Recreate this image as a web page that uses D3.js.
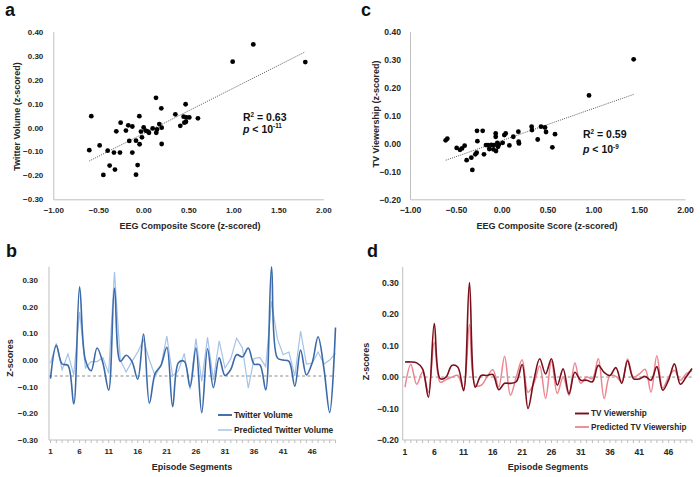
<!DOCTYPE html>
<html><head><meta charset="utf-8">
<script src="https://cdn.jsdelivr.net/npm/d3@7/dist/d3.min.js"></script>
<style>
body{margin:0;background:#fff;}
svg{display:block;font-family:"Liberation Sans",Arial,sans-serif;}
</style></head>
<body><svg id="chart" width="700" height="477"></svg>
<script>
// ---------- DATA ----------
const eegA = [-0.60,-0.578,-0.485,-0.444,-0.396,-0.374,-0.326,-0.315,-0.30,-0.259,-0.252,-0.193,-0.167,-0.156,-0.122,-0.122,-0.081,-0.081,-0.063,-0.044,-0.041,-0.026,-0.015,0.004,0.026,0.048,0.063,0.104,0.141,0.144,0.152,0.178,0.20,0.204,0.204,0.356,0.411,0.448,0.456,0.470,0.474,0.478,0.511,0.607,0.993,1.222,1.80];
const twitterA = [-0.095,0.047,-0.075,-0.198,-0.097,-0.159,-0.105,-0.176,-0.016,-0.105,0.020,-0.013,0.009,-0.056,0.004,-0.105,-0.055,-0.197,-0.157,0.047,-0.070,-0.017,-0.041,0.0,-0.013,-0.016,-0.022,-0.004,0.124,-0.022,-0.008,0.014,0.080,-0.001,-0.069,0.055,0.007,0.045,0.020,0.097,0.024,0.042,0.042,0.038,0.275,0.347,0.273];
const trendA = {slope:0.19, intercept:-0.026, from:-0.60, to:1.80};

const eegC = [-0.611,-0.593,-0.491,-0.455,-0.433,-0.404,-0.382,-0.331,-0.32,-0.287,-0.273,-0.269,-0.265,-0.207,-0.193,-0.171,-0.149,-0.135,-0.113,-0.091,-0.084,-0.065,-0.065,-0.062,-0.047,-0.04,-0.029,0.011,0.029,0.044,0.084,0.127,0.182,0.185,0.189,0.327,0.331,0.393,0.429,0.473,0.484,0.553,0.582,0.953,1.44];
const tvC = [0.011,0.017,-0.016,-0.023,-0.018,-0.008,-0.060,-0.051,-0.095,-0.039,-0.033,0.045,0.008,0.045,-0.039,-0.006,-0.006,-0.020,-0.005,-0.021,-0.006,0.024,0.036,-0.027,0.002,-0.012,-0.004,0.002,0.030,0.036,-0.007,0.024,0.042,0.006,0.0,0.060,0.048,0.014,0.060,0.057,0.041,-0.014,0.033,0.172,0.301];
const trendC = {slope:0.115, intercept:0.010, from:-0.61, to:1.45};

const segments = d3.range(1, 51);
const twitterVolume = [-0.07,0.055,-0.015,-0.02,-0.165,0.275,0.0,-0.04,0.045,-0.01,-0.113,0.27,-0.005,0.018,-0.005,-0.072,0.097,-0.162,-0.05,-0.02,0.048,-0.175,-0.01,-0.005,-0.10,0.045,-0.198,0.042,-0.104,0.008,-0.058,-0.035,0.02,0.012,0.045,-0.015,-0.018,-0.112,0.35,0.008,0.0,-0.005,-0.098,0.037,-0.056,-0.01,0.087,-0.03,-0.197,0.122];
const predTwitter = [-0.012,0.062,-0.037,0.023,-0.056,0.18,-0.03,-0.006,-0.006,0.009,-0.05,0.33,0.0,-0.045,-0.005,0.03,0.075,0.0,-0.06,-0.02,0.09,-0.06,-0.04,0.025,-0.11,0.08,-0.08,0.085,-0.075,0.072,-0.03,0.005,0.082,0.045,-0.105,0.005,0.01,-0.025,0.22,0.08,0.02,0.03,-0.06,0.108,-0.015,-0.012,0.03,-0.015,0.0,0.025];
const refLineB = -0.06;

const tvViewership = [0.048,0.048,0.045,0.026,-0.064,0.17,-0.005,0.0,0.037,0.032,-0.043,0.30,-0.032,0.005,0.005,0.008,-0.04,-0.02,-0.02,-0.015,0.04,-0.10,-0.01,0.058,0.01,0.058,-0.026,0.026,-0.053,0.015,-0.01,-0.01,-0.015,0.037,0.015,0.005,0.03,-0.02,0.052,-0.005,-0.006,0.002,-0.01,0.033,-0.042,-0.01,0.042,-0.023,0.0,0.027];
const predTV = [-0.032,0.04,-0.023,0.016,-0.048,0.11,-0.016,-0.008,0.0,0.005,-0.037,0.167,-0.026,-0.026,0.0,0.023,-0.032,0.066,-0.058,0.0,0.055,-0.048,-0.02,0.035,-0.068,0.05,-0.052,0.0,-0.058,0.045,-0.02,0.0,-0.005,0.058,-0.068,0.005,0.002,-0.015,0.057,0.0,0.01,0.025,-0.048,0.068,-0.035,0.0,0.022,-0.01,0.01,0.02];
const refLineD = 0.0;

const scatterXTicks = [-1,-0.5,0,0.5,1,1.5,2];
const yTicksA = [-0.3,-0.2,-0.1,0,0.1,0.2,0.3,0.4];
const yTicksC = [-0.2,-0.1,0,0.1,0.2,0.3,0.4];
const yTicksB = [-0.3,-0.2,-0.1,0,0.1,0.2,0.3];
const yTicksD = [-0.2,-0.1,0,0.1,0.2,0.3];
const segTickLabels = [1,6,11,16,21,26,31,36,41,46];

// ---------- DRAW ----------
const svg = d3.select("#chart");
const fmt = d3.format(".2f");
const axisColor = "#bfbfbf", textColor = "#262626";

function styleAxis(g){
  g.select(".domain").attr("stroke", axisColor).attr("stroke-width", 1);
  g.selectAll(".tick line").attr("stroke", axisColor);
  g.selectAll("text").attr("fill", textColor).attr("font-weight","bold").attr("font-family",'"Liberation Sans",Arial,sans-serif');
}
function panelLetter(t,x,y){
  svg.append("text").attr("x",x).attr("y",y).text(t).attr("font-size",18).attr("font-weight","bold").attr("fill","#111");
}
function yTitle(t,x,y){
  svg.append("text").attr("transform",`translate(${x},${y}) rotate(-90)`).attr("text-anchor","middle").attr("dy","0.35em")
    .attr("font-size",9).attr("font-weight","bold").attr("fill",textColor).text(t);
}
function xTitle(t,x,y){
  svg.append("text").attr("x",x).attr("y",y).attr("text-anchor","middle")
    .attr("font-size",9).attr("font-weight","bold").attr("fill",textColor).text(t);
}

function scatter(o){
  const x = d3.scaleLinear([-1,2],[o.x0,o.x1]);
  const y = d3.scaleLinear([o.ymin,0.4],[o.yb,o.yt]);
  const gx = svg.append("g").attr("transform",`translate(0,${o.yb})`)
    .call(d3.axisBottom(x).tickValues(scatterXTicks).tickFormat(fmt).tickSize(0).tickPadding(8));
  gx.selectAll("text").attr("font-size",o.fs);
  styleAxis(gx);
  const gy = svg.append("g").attr("transform",`translate(${o.x0},0)`)
    .call(d3.axisLeft(y).tickValues(o.yTicks).tickFormat(fmt).tickSize(0).tickPadding(o.ypad));
  gy.selectAll("text").attr("font-size",o.fs);
  styleAxis(gy);
  const t = o.trend;
  svg.append("line").attr("x1",x(t.from)).attr("y1",y(t.intercept+t.slope*t.from))
    .attr("x2",x(t.to)).attr("y2",y(t.intercept+t.slope*t.to))
    .attr("stroke","#555").attr("stroke-width",1).attr("stroke-dasharray","1,1.2");
  svg.append("g").selectAll("circle").data(o.xs).join("circle")
    .attr("cx",d=>x(d)).attr("cy",(d,i)=>y(o.ys[i])).attr("r",2.4).attr("fill","#000");
  const st = svg.append("text").attr("x",o.sx).attr("y",o.sy1).attr("font-size",o.sfs).attr("font-weight","bold").attr("fill","#111");
  st.append("tspan").text("R");
  st.append("tspan").text("2").attr("font-size",o.sfs*0.6).attr("dy",-o.sfs*0.4);
  st.append("tspan").text(" = "+o.r2).attr("dy",o.sfs*0.4);
  const pt = svg.append("text").attr("x",o.sx).attr("y",o.sy2).attr("font-size",o.sfs).attr("font-weight","bold").attr("fill","#111");
  pt.append("tspan").text("p").attr("font-style","italic");
  pt.append("tspan").text(" < 10");
  pt.append("tspan").text(o.pexp).attr("font-size",o.sfs*0.6).attr("dy",-o.sfs*0.4);
}

function series(o){
  const x = d3.scaleLinear([1,50],[o.px0,o.px1]);
  const y = d3.scaleLinear([o.ymin,0.35],[440,o.ytop]);
  const gy = svg.append("g").attr("transform",`translate(${o.ax0},0)`)
    .call(d3.axisLeft(y).tickValues(o.yTicks).tickFormat(fmt).tickSize(0).tickPadding(o.ypad));
  gy.select(".domain").attr("d",`M0,${y(0.35)}V440`);
  gy.selectAll("text").attr("font-size",o.fs);
  styleAxis(gy);
  const gx = svg.append("g").attr("transform","translate(0,440)");
  gx.append("line").attr("x1",o.ax0).attr("x2",o.ax1).attr("stroke",axisColor);
  gx.selectAll("line.t").data(segments).join("line").attr("class","t")
    .attr("x1",d=>x(d)).attr("x2",d=>x(d)).attr("y1",0).attr("y2",3).attr("stroke",axisColor);
  gx.selectAll("text").data(segTickLabels).join("text").attr("x",d=>x(d)).attr("y",8.5).attr("dy","0.71em")
    .attr("text-anchor","middle").attr("font-size",o.fs).attr("font-weight","bold").attr("fill",textColor).text(d=>d);
  svg.append("line").attr("x1",o.ax0).attr("x2",o.ax1).attr("y1",y(o.ref)).attr("y2",y(o.ref))
    .attr("stroke","#8c8c8c").attr("stroke-width",1).attr("stroke-dasharray","3,2.5");
  svg.append("path").attr("d",d3.line().x((d,i)=>x(segments[i])).y(d=>y(d)).curve(o.predCurve)(o.pred))
    .attr("fill","none").attr("stroke",o.c2).attr("stroke-width",o.w2);
  svg.append("path").attr("d",d3.line().x((d,i)=>x(segments[i])).y(d=>y(d)).curve(d3.curveCatmullRom)(o.act))
    .attr("fill","none").attr("stroke",o.c1).attr("stroke-width",1.6);
  [[o.n1,o.c1,1.6],[o.n2,o.c2,o.w2]].forEach((L,i)=>{
    const ly = o.ly + i*o.lgap;
    svg.append("line").attr("x1",o.lx).attr("x2",o.lx+14).attr("y1",ly).attr("y2",ly).attr("stroke",L[1]).attr("stroke-width",L[2]+0.3);
    svg.append("text").attr("x",o.lx+16).attr("y",ly).attr("dy","0.35em").attr("font-size",o.lfs).attr("font-weight","bold")
      .attr("fill",textColor).text(L[0]);
  });
}

// Panel a
panelLetter("a",5,16);
scatter({x0:53.3,x1:323.3,yb:199.3,yt:31.7,ymin:-0.3,yTicks:yTicksA,xs:eegA,ys:twitterA,trend:trendA,fs:8,ypad:10,
  sx:243,sy1:121,sy2:132.5,sfs:10.5,r2:"0.63",pexp:"-11"});
xTitle("EEG Composite Score (z-scored)",190,229);
yTitle("Twitter Volume (z-scored)",16.5,116.5);

// Panel c
panelLetter("c",361,16);
scatter({x0:410,x1:685,yb:199.3,yt:31.7,ymin:-0.2,yTicks:yTicksC,xs:eegC,ys:tvC,trend:trendC,fs:8.6,ypad:9,
  sx:583,sy1:138,sy2:153,sfs:10.5,r2:"0.59",pexp:"-9"});
xTitle("EEG Composite Score (z-scored)",547,229);
yTitle("TV Viewership (z-scored)",376,114);

// Panel b
panelLetter("b",6,257);
series({ax0:49,ax1:335.5,px0:50.5,px1:335.5,ymin:-0.3,ytop:266.7,yTicks:yTicksB,fs:8,ypad:11,ref:refLineB,
  act:twitterVolume,pred:predTwitter,c1:"#3c6aa8",c2:"#a4c2e8",w2:1.2,predCurve:d3.curveLinear,
  n1:"Twitter Volume",n2:"Predicted Twitter Volume",lx:218,ly:415,lgap:15,lfs:8.4});
xTitle("Episode Segments",192,470);
yTitle("Z-scores",10,358);

// Panel d
panelLetter("d",367,257);
series({ax0:402.7,ax1:692,px0:405,px1:692,ymin:-0.2,ytop:266.9,yTicks:yTicksD,fs:8.6,ypad:4,ref:refLineD,
  act:tvViewership,pred:predTV,c1:"#7a0f1c",c2:"#ec8590",w2:1.5,predCurve:d3.curveCatmullRom,
  n1:"TV Viewership",n2:"Predicted TV Viewership",lx:575,ly:413.5,lgap:13.5,lfs:8.2});
xTitle("Episode Segments",548,470);
yTitle("Z-scores",366,361.5);
</script></body></html>
